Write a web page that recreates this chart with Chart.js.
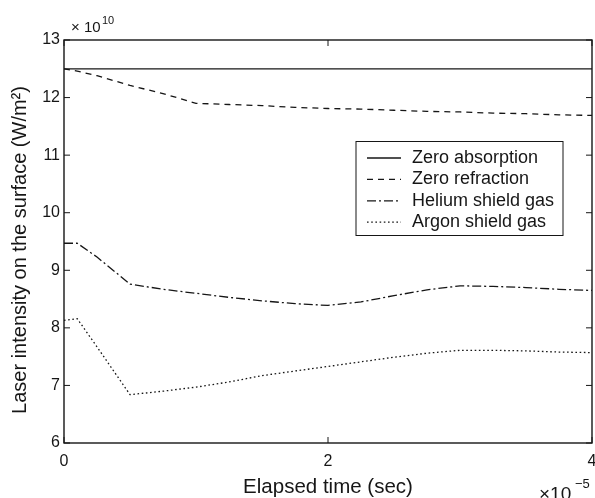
<!DOCTYPE html>
<html>
<head>
<meta charset="utf-8">
<script src="https://cdn.jsdelivr.net/npm/chart.js@4.4.1/dist/chart.umd.min.js"></script>
<style>
  html, body { margin: 0; padding: 0; background: #fff; }
  #wrap { width: 595px; height: 498px; }
</style>
</head>
<body>
<div id="wrap"><canvas id="chart" width="595" height="498"></canvas></div>
<script>
// elapsed time, in units of 1e-5 s
const times = [0, 0.1, 0.25, 0.5, 0.75, 1, 1.25, 1.5, 1.75, 2, 2.25, 2.5, 2.75, 3, 3.25, 3.5, 3.75, 4];

// laser intensity, in units of 1e10 W/m^2
const zeroAbsorption = [12.5, 12.5, 12.5, 12.5, 12.5, 12.5, 12.5, 12.5, 12.5, 12.5, 12.5, 12.5, 12.5, 12.5, 12.5, 12.5, 12.5, 12.5];
const zeroRefraction = [12.5, 12.46, 12.38, 12.21, 12.07, 11.9, 11.88, 11.86, 11.83, 11.81, 11.8, 11.78, 11.76, 11.75, 11.73, 11.72, 11.7, 11.69];
const heliumGas = [9.47, 9.47, 9.23, 8.76, 8.67, 8.6, 8.53, 8.47, 8.42, 8.39, 8.45, 8.56, 8.66, 8.73, 8.72, 8.7, 8.67, 8.65];
const argonGas = [8.13, 8.16, 7.67, 6.84, 6.9, 6.97, 7.06, 7.17, 7.25, 7.33, 7.41, 7.49, 7.56, 7.61, 7.61, 7.6, 7.58, 7.57];

const seriesLabels = ['Zero absorption', 'Zero refraction', 'Helium shield gas', 'Argon shield gas'];
const xTicks = [0, 2, 4];
const yTicks = [6, 7, 8, 9, 10, 11, 12, 13];
const xTitle = 'Elapsed time (sec)';
const yTitle = 'Laser intensity on the surface (W/m²)';

const ink = '#161616';
const fontFamily = '"Liberation Sans", Arial, Helvetica, sans-serif';
Chart.defaults.font.family = fontFamily;
Chart.defaults.color = ink;

const dashes = [[], [6, 5], [9, 3, 2, 3], [1.6, 2.6]];
const seriesValues = [zeroAbsorption, zeroRefraction, heliumGas, argonGas];

const datasets = seriesValues.map((vals, i) => ({
  label: seriesLabels[i],
  data: times.map((t, j) => ({ x: t, y: vals[j] })),
  borderColor: ink,
  borderWidth: 1.3,
  borderDash: dashes[i],
  pointRadius: 0,
  fill: false,
  tension: 0
}));

// frame with inward ticks, legend, y title and exponent labels (MATLAB look)
const matlabFrame = {
  id: 'matlabFrame',
  afterDatasetsDraw(chart) {
    const { ctx, chartArea: a, scales } = chart;
    ctx.save();
    ctx.strokeStyle = ink;
    ctx.lineWidth = 1.4;
    ctx.setLineDash([]);
    ctx.strokeRect(a.left, a.top, a.right - a.left, a.bottom - a.top);

    const tl = 6;
    ctx.lineWidth = 1;
    ctx.beginPath();
    yTicks.forEach(v => {
      const y = scales.y.getPixelForValue(v);
      ctx.moveTo(a.left, y); ctx.lineTo(a.left + tl, y);
      ctx.moveTo(a.right, y); ctx.lineTo(a.right - tl, y);
    });
    xTicks.forEach(v => {
      const x = scales.x.getPixelForValue(v);
      ctx.moveTo(x, a.bottom); ctx.lineTo(x, a.bottom - tl);
      ctx.moveTo(x, a.top); ctx.lineTo(x, a.top + tl);
    });
    ctx.stroke();

    // legend box
    const lx = a.right - 236, ly = a.top + 101.5, lw = 207, lh = 94;
    ctx.fillStyle = '#fff';
    ctx.fillRect(lx, ly, lw, lh);
    ctx.lineWidth = 1;
    ctx.strokeRect(lx, ly, lw, lh);
    ctx.font = '18px ' + fontFamily;
    ctx.textBaseline = 'middle';
    ctx.fillStyle = ink;
    chart.data.datasets.forEach((ds, i) => {
      const y = ly + 16.5 + i * 21.4;
      ctx.beginPath();
      ctx.lineWidth = 1.3;
      ctx.setLineDash(ds.borderDash);
      ctx.moveTo(lx + 11, y);
      ctx.lineTo(lx + 45, y);
      ctx.stroke();
      ctx.setLineDash([]);
      ctx.fillText(ds.label, lx + 56, y);
    });

    // y axis title
    ctx.save();
    ctx.translate(20, 250);
    ctx.rotate(-Math.PI / 2);
    ctx.textAlign = 'center';
    ctx.font = '20px ' + fontFamily;
    ctx.fillText(yTitle, 0, 0);
    ctx.restore();

    // exponent labels
    ctx.textBaseline = 'alphabetic';
    ctx.font = '15px ' + fontFamily;
    ctx.fillText('× 10', a.left + 7, a.top - 8);
    ctx.font = '11px ' + fontFamily;
    ctx.fillText('10', a.left + 38, a.top - 16);
    ctx.font = '19px ' + fontFamily;
    ctx.fillText('×10', a.right - 53, chart.height + 2);
    ctx.font = '13px ' + fontFamily;
    ctx.fillText('−5', a.right - 17, chart.height - 10);
    ctx.restore();
  }
};

new Chart(document.getElementById('chart'), {
  type: 'line',
  data: { datasets },
  options: {
    responsive: false,
    animation: false,
    layout: { padding: { left: 0, right: 3, top: 40, bottom: 0 } },
    plugins: {
      legend: { display: false },
      tooltip: { enabled: false }
    },
    scales: {
      x: {
        type: 'linear',
        min: 0,
        max: 4,
        afterBuildTicks: s => { s.ticks = xTicks.map(v => ({ value: v })); },
        ticks: { font: { size: 16 }, color: ink, padding: 9 },
        grid: { display: false, drawTicks: false },
        border: { display: false },
        title: { display: true, text: xTitle, font: { size: 20.5 }, color: ink, padding: { top: 0, bottom: -2 } },
        afterFit: s => { s.height = 55; s.paddingLeft = 0; s.paddingRight = 0; }
      },
      y: {
        min: 6,
        max: 13,
        afterBuildTicks: s => { s.ticks = yTicks.map(v => ({ value: v })); },
        ticks: { font: { size: 16 }, color: ink, padding: 4 },
        grid: { display: false, drawTicks: false },
        border: { display: false },
        title: { display: false },
        afterFit: s => { s.width = 64; }
      }
    }
  },
  plugins: [matlabFrame]
});
</script>
</body>
</html>
